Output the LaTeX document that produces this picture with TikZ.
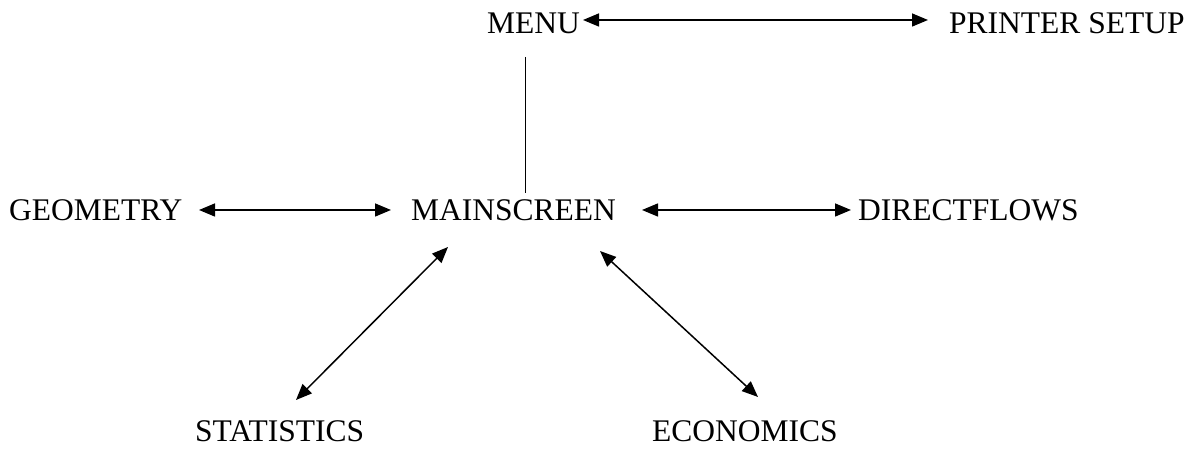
\documentclass[tikz,border=0pt]{standalone}
\usepackage{fontspec}
\setmainfont{Liberation Serif}
\usetikzlibrary{arrows.meta}
\begin{document}
\begin{tikzpicture}[x=1pt,y=1pt,
  lbl/.style={inner sep=0pt, anchor=base west, font=\fontsize{31.5}{36}\selectfont},
  link/.style={line width=1.5pt, {Triangle[length=16pt,width=13pt]}-{Triangle[length=16pt,width=13pt]}},
  plain/.style={line width=1.5pt}]
\useasboundingbox (0,0) rectangle (1195,449);
\node[lbl] (menu) at (487,415) {MENU};
\node[lbl] (printer) at (949,415) {PRINTER SETUP};
\node[lbl] (geometry) at (9,228) {GEOMETRY};
\node[lbl] (main) at (411,228) {MAINSCREEN};
\node[lbl] (direct) at (858,228) {DIRECTFLOWS};
\node[lbl] (stat) at (195,7) {STATISTICS};
\node[lbl] (econ) at (652,7) {ECONOMICS};
% connector end points
\coordinate (menuR) at (583,429);
\coordinate (printerL) at (928,429);
\coordinate (menuB) at (525.7,392);
\coordinate (mainT) at (525.7,256);
\coordinate (geoR) at (199,239);
\coordinate (mainL) at (391,239);
\coordinate (mainR) at (642,239);
\coordinate (directL) at (851,239);
\coordinate (mainSW) at (448,202);
\coordinate (statT) at (296,49);
\coordinate (mainSE) at (600,198);
\coordinate (econT) at (758,52);
\draw[link] (menuR) -- (printerL);
\draw[plain] (menuB) -- (mainT);
\draw[link] (geoR) -- (mainL);
\draw[link] (mainR) -- (directL);
\draw[link] (mainSW) -- (statT);
\draw[link] (mainSE) -- (econT);
\end{tikzpicture}
\end{document}
